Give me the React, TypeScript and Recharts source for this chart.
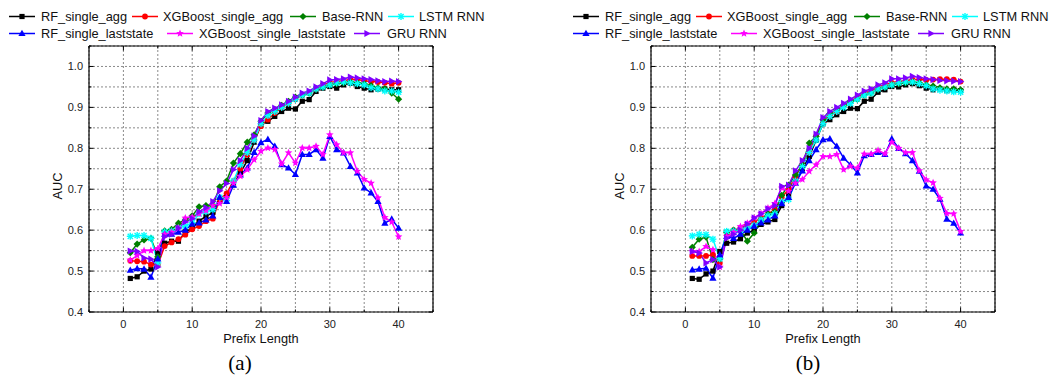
import React from 'react';
import { LineChart, Line, XAxis, YAxis, CartesianGrid } from 'recharts';

const prefixLengths = [1,2,3,4,5,6,7,8,9,10,11,12,13,14,15,16,17,18,19,20,21,22,23,24,25,26,27,28,29,30,31,32,33,34,35,36,37,38,39,40];

const xTicks = [-5,0,5,10,15,20,25,30,35,40,45];
const yTicks = [0.4,0.45,0.5,0.55,0.6,0.65,0.7,0.75,0.8,0.85,0.9,0.95,1.0,1.05];

// Panel (a)
const aRfAgg = [.482,.486,.500,.505,.545,.568,.573,.573,.596,.605,.622,.634,.643,.670,.683,.711,.740,.770,.815,.858,.866,.878,.890,.898,.896,.915,.919,.939,.947,.951,.947,.955,.959,.951,.947,.943,.945,.945,.943,.943];
const aXgbAgg = [.525,.524,.523,.516,.515,.561,.570,.578,.589,.602,.610,.622,.628,.675,.690,.720,.750,.785,.820,.854,.870,.886,.900,.910,.920,.930,.935,.945,.955,.960,.963,.965,.968,.968,.965,.963,.962,.960,.958,.960];
const aBaseRnn = [.545,.566,.576,.580,.535,.598,.602,.617,.625,.635,.657,.660,.659,.706,.720,.764,.787,.815,.833,.866,.886,.895,.905,.915,.925,.930,.935,.945,.950,.955,.958,.960,.962,.960,.958,.953,.948,.945,.935,.920];
const aLstm = [.585,.587,.587,.580,.520,.596,.598,.605,.610,.618,.640,.645,.650,.680,.672,.720,.760,.790,.820,.860,.880,.890,.900,.910,.920,.930,.935,.945,.950,.955,.960,.962,.960,.958,.955,.948,.945,.940,.940,.937];
const aGru = [.549,.548,.532,.529,.510,.584,.590,.605,.620,.628,.645,.655,.670,.696,.714,.748,.770,.800,.830,.868,.890,.898,.906,.915,.925,.935,.940,.950,.958,.967,.968,.970,.974,.972,.970,.968,.965,.963,.964,.963];
const aRfLast = [.502,.506,.505,.485,.530,.590,.590,.595,.600,.615,.618,.625,.635,.680,.670,.710,.735,.752,.790,.814,.822,.805,.760,.752,.736,.785,.785,.797,.776,.829,.797,.789,.756,.740,.703,.691,.670,.617,.627,.605];
const aXgbLast = [.527,.538,.550,.550,.555,.590,.595,.605,.630,.632,.640,.648,.660,.665,.680,.715,.732,.748,.772,.793,.801,.797,.762,.789,.764,.801,.801,.805,.785,.833,.809,.789,.789,.744,.724,.715,.679,.631,.620,.584];

// Panel (b)
const bRfAgg = [.482,.480,.493,.500,.548,.568,.571,.579,.593,.600,.614,.620,.626,.660,.685,.720,.750,.780,.820,.860,.870,.882,.890,.898,.897,.915,.920,.937,.943,.951,.950,.955,.958,.953,.947,.943,.945,.941,.943,.941];
const bXgbAgg = [.537,.537,.537,.540,.520,.593,.600,.605,.612,.620,.630,.640,.650,.680,.700,.730,.760,.790,.830,.865,.880,.890,.905,.915,.925,.935,.940,.950,.955,.960,.963,.965,.968,.968,.967,.968,.969,.969,.968,.963];
const bBaseRnn = [.558,.578,.583,.528,.530,.595,.600,.600,.573,.593,.625,.640,.645,.685,.710,.735,.760,.813,.829,.870,.885,.895,.905,.915,.920,.930,.935,.945,.950,.955,.958,.960,.962,.960,.955,.952,.948,.945,.945,.943];
const bLstm = [.586,.590,.589,.578,.530,.597,.598,.600,.605,.612,.625,.635,.640,.670,.675,.720,.755,.790,.820,.860,.878,.890,.900,.910,.920,.930,.935,.945,.950,.955,.960,.962,.962,.958,.953,.945,.942,.940,.938,.937];
const bGru = [.548,.544,.520,.528,.510,.580,.590,.600,.615,.630,.640,.652,.660,.707,.710,.745,.770,.800,.835,.875,.890,.900,.910,.920,.930,.940,.945,.955,.960,.970,.970,.972,.976,.973,.970,.968,.966,.965,.964,.963];
const bRfLast = [.503,.505,.507,.483,.540,.585,.580,.590,.600,.610,.618,.625,.635,.665,.680,.715,.745,.770,.797,.821,.823,.805,.776,.760,.740,.782,.785,.790,.785,.823,.800,.787,.770,.744,.708,.700,.676,.627,.617,.593];
const bXgbLast = [.548,.548,.560,.552,.510,.585,.595,.609,.617,.630,.641,.654,.665,.703,.695,.715,.724,.744,.760,.780,.780,.785,.748,.756,.752,.786,.786,.795,.787,.815,.800,.790,.790,.745,.723,.716,.678,.641,.640,.597];

type Kind = 'square' | 'circle' | 'diamond' | 'asterisk' | 'triangle' | 'star' | 'triangleRight';

interface SeriesDef { key: string; name: string; color: string; kind: Kind; }

const seriesDefs: SeriesDef[] = [
  { key: 'rfAgg', name: 'RF_single_agg', color: '#000000', kind: 'square' },
  { key: 'xgbAgg', name: 'XGBoost_single_agg', color: '#ff0000', kind: 'circle' },
  { key: 'baseRnn', name: 'Base-RNN', color: '#008000', kind: 'diamond' },
  { key: 'lstm', name: 'LSTM RNN', color: '#00ffff', kind: 'asterisk' },
  { key: 'rfLast', name: 'RF_single_laststate', color: '#0000ff', kind: 'triangle' },
  { key: 'xgbLast', name: 'XGBoost_single_laststate', color: '#ff00ff', kind: 'star' },
  { key: 'gru', name: 'GRU RNN', color: '#8000ff', kind: 'triangleRight' },
];

function buildRows(src: Record<string, number[]>) {
  return prefixLengths.map((x, i) => {
    const row: Record<string, number> = { x };
    Object.keys(src).forEach((k) => { row[k] = src[k][i]; });
    return row;
  });
}

const dataA = buildRows({ rfAgg: aRfAgg, xgbAgg: aXgbAgg, baseRnn: aBaseRnn, lstm: aLstm, rfLast: aRfLast, xgbLast: aXgbLast, gru: aGru });
const dataB = buildRows({ rfAgg: bRfAgg, xgbAgg: bXgbAgg, baseRnn: bBaseRnn, lstm: bLstm, rfLast: bRfLast, xgbLast: bXgbLast, gru: bGru });

function starPoints(cx: number, cy: number, R: number, r: number) {
  const pts: string[] = [];
  for (let i = 0; i < 10; i++) {
    const ang = -Math.PI / 2 + (i * Math.PI) / 5;
    const rad = i % 2 === 0 ? R : r;
    pts.push(`${cx + rad * Math.cos(ang)},${cy + rad * Math.sin(ang)}`);
  }
  return pts.join(' ');
}

function Marker({ kind, cx, cy, color }: { kind: Kind; cx: number; cy: number; color: string }) {
  switch (kind) {
    case 'square':
      return <rect x={cx - 2.6} y={cy - 2.6} width={5.2} height={5.2} fill={color} />;
    case 'circle':
      return <circle cx={cx} cy={cy} r={2.9} fill={color} />;
    case 'diamond':
      return <polygon points={`${cx},${cy - 3.6} ${cx + 3.6},${cy} ${cx},${cy + 3.6} ${cx - 3.6},${cy}`} fill={color} />;
    case 'asterisk':
      return (
        <g stroke={color} strokeWidth={1.4}>
          <line x1={cx - 3.5} y1={cy} x2={cx + 3.5} y2={cy} />
          <line x1={cx} y1={cy - 3.5} x2={cx} y2={cy + 3.5} />
          <line x1={cx - 2.6} y1={cy - 2.6} x2={cx + 2.6} y2={cy + 2.6} />
          <line x1={cx - 2.6} y1={cy + 2.6} x2={cx + 2.6} y2={cy - 2.6} />
        </g>
      );
    case 'triangle':
      return <polygon points={`${cx},${cy - 3.8} ${cx + 3.6},${cy + 2.6} ${cx - 3.6},${cy + 2.6}`} fill={color} />;
    case 'star':
      return <polygon points={starPoints(cx, cy, 4, 1.8)} fill={color} />;
    case 'triangleRight':
      return <polygon points={`${cx + 3.8},${cy} ${cx - 2.6},${cy - 3.6} ${cx - 2.6},${cy + 3.6}`} fill={color} />;
  }
  return null;
}

const tickFont = { fontFamily: '"Liberation Sans", Arial, sans-serif', fontSize: 11, fill: '#222' };

const isMajorX = (v: number) => Math.abs(v % 10) < 1e-6;
const isMajorY = (v: number) => Math.abs(v * 10 - Math.round(v * 10)) < 1e-6;

// tick components draw at the axis line (tickSize = tickMargin = 0)
function BottomTick(props: any) {
  const { x, y, payload } = props;
  const v = payload.value as number;
  const major = isMajorX(v);
  const labeled = major && v >= 0 && v <= 40;
  return (
    <g>
      <line x1={x} y1={y} x2={x} y2={y - (major ? 4.5 : 2.5)} stroke="#000" strokeWidth={1} />
      {labeled && (
        <text x={x} y={y + 15.5} textAnchor="middle" {...tickFont}>{v}</text>
      )}
    </g>
  );
}

function TopTick(props: any) {
  const { x, y, payload } = props;
  const major = isMajorX(payload.value);
  return <line x1={x} y1={y} x2={x} y2={y + (major ? 4.5 : 2.5)} stroke="#000" strokeWidth={1} />;
}

function LeftTick(props: any) {
  const { x, y, payload } = props;
  const v = payload.value as number;
  const major = isMajorY(v);
  const labeled = major && v <= 1.0001;
  return (
    <g>
      <line x1={x} y1={y} x2={x + (major ? 4.5 : 2.5)} y2={y} stroke="#000" strokeWidth={1} />
      {labeled && (
        <text x={x - 6} y={y + 4} textAnchor="end" {...tickFont}>{v.toFixed(1)}</text>
      )}
    </g>
  );
}

function RightTick(props: any) {
  const { x, y, payload } = props;
  const major = isMajorY(payload.value);
  return <line x1={x} y1={y} x2={x - (major ? 4.5 : 2.5)} y2={y} stroke="#000" strokeWidth={1} />;
}

function Panel({ data, left, width, marginRight }: { data: any[]; left: number; width: number; marginRight: number }) {
  // plot area: x from 89 to (width - marginRight - 1), y from 46 to 312
  return (
    <div style={{ position: 'absolute', left, top: 0 }}>
      <LineChart width={width} height={376} data={data} margin={{ top: 36, right: marginRight - 10, bottom: 34, left: 49 }}>
        <CartesianGrid stroke="#8a8a8a" strokeDasharray="2 2" strokeWidth={1} />
        <XAxis dataKey="x" type="number" domain={[-5, 45]} ticks={xTicks} interval={0} allowDataOverflow height={30}
          tickSize={0} tickMargin={0} tickLine={false} axisLine={{ stroke: '#000', strokeWidth: 1.2 }} tick={BottomTick} />
        <XAxis xAxisId="top" orientation="top" dataKey="x" type="number" domain={[-5, 45]} ticks={xTicks} interval={0} allowDataOverflow height={10}
          tickSize={0} tickMargin={0} tickLine={false} axisLine={{ stroke: '#000', strokeWidth: 1.2 }} tick={TopTick} />
        <YAxis type="number" domain={[0.4, 1.05]} ticks={yTicks} interval={0} allowDataOverflow width={40}
          tickSize={0} tickMargin={0} tickLine={false} axisLine={{ stroke: '#000', strokeWidth: 1.2 }} tick={LeftTick} />
        <YAxis yAxisId="right" orientation="right" type="number" domain={[0.4, 1.05]} ticks={yTicks} interval={0} allowDataOverflow width={10}
          tickSize={0} tickMargin={0} tickLine={false} axisLine={{ stroke: '#000', strokeWidth: 1.2 }} tick={RightTick} />
        {seriesDefs.map((s) => (
          <Line
            key={s.key}
            dataKey={s.key}
            name={s.name}
            type="linear"
            stroke={s.color}
            strokeWidth={1.5}
            isAnimationActive={false}
            dot={(p: any) => <Marker key={`${s.key}-${p.index}`} kind={s.kind} cx={p.cx} cy={p.cy} color={s.color} />}
            activeDot={false}
          />
        ))}
      </LineChart>
    </div>
  );
}

const legendLayout = [
  { key: 'rfAgg', row: 0, x1: 9, tx: 41 },
  { key: 'xgbAgg', row: 0, x1: 132, tx: 163 },
  { key: 'baseRnn', row: 0, x1: 290, tx: 322 },
  { key: 'lstm', row: 0, x1: 388, tx: 419 },
  { key: 'rfLast', row: 1, x1: 9, tx: 41 },
  { key: 'xgbLast', row: 1, x1: 167, tx: 199 },
  { key: 'gru', row: 1, x1: 354, tx: 387 },
];
const legendRowsY = [16.5, 33.5];

function LegendBlock({ dx }: { dx: number }) {
  return (
    <g>
      {legendLayout.map((it) => {
        const s = seriesDefs.find((d) => d.key === it.key)!;
        const y = legendRowsY[it.row];
        const x1 = it.x1 + dx;
        const x2 = x1 + 26;
        return (
          <g key={it.key}>
            <line x1={x1} y1={y} x2={x2} y2={y} stroke={s.color} strokeWidth={1.5} />
            <Marker kind={s.kind} cx={(x1 + x2) / 2} cy={y} color={s.color} />
            <text x={it.tx + dx} y={y + 4.6} fontFamily='"Liberation Sans", Arial, sans-serif' fontSize={12.8} fill="#111">{s.name}</text>
          </g>
        );
      })}
    </g>
  );
}

export default function App() {
  const labelFont = '"Liberation Sans", Arial, sans-serif';
  return (
    <div style={{ position: 'absolute', left: 0, top: 0, width: 1059, height: 376, overflow: 'hidden', background: '#fff' }}>
      <Panel data={dataA} left={0} width={530} marginRight={97} />
      <Panel data={dataB} left={562} width={497} marginRight={64} />
      <svg width={1059} height={376} style={{ position: 'absolute', left: 0, top: 0, pointerEvents: 'none' }}>
        <LegendBlock dx={0} />
        <LegendBlock dx={564} />
        <text x={261} y={343} textAnchor="middle" fontFamily={labelFont} fontSize={12.8} fill="#111">Prefix Length</text>
        <text x={823} y={343} textAnchor="middle" fontFamily={labelFont} fontSize={12.8} fill="#111">Prefix Length</text>
        <text transform="translate(62,186) rotate(-90)" textAnchor="middle" fontFamily={labelFont} fontSize={12.8} fill="#111">AUC</text>
        <text transform="translate(624,186) rotate(-90)" textAnchor="middle" fontFamily={labelFont} fontSize={12.8} fill="#111">AUC</text>
        <text x={240} y={370} textAnchor="middle" fontFamily='"Liberation Serif", "Times New Roman", serif' fontSize={21} fill="#000">(a)</text>
        <text x={808} y={370} textAnchor="middle" fontFamily='"Liberation Serif", "Times New Roman", serif' fontSize={21} fill="#000">(b)</text>
      </svg>
    </div>
  );
}
